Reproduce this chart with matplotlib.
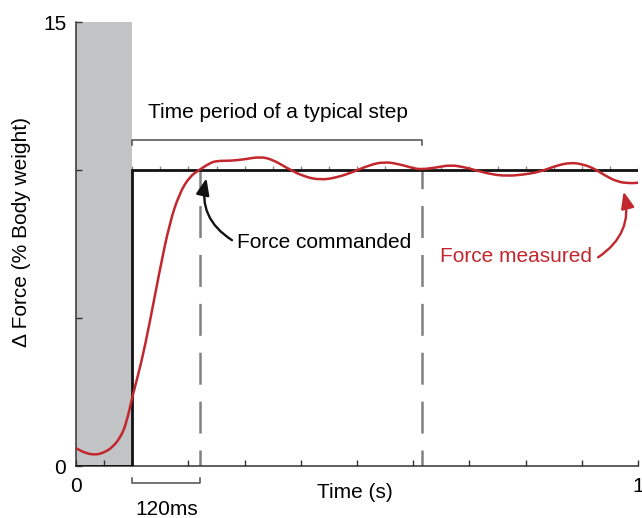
import numpy as np
import matplotlib
matplotlib.use("Agg")
import matplotlib.pyplot as plt
from matplotlib.patches import FancyArrowPatch, PathPatch
from matplotlib.path import Path

plt.rcParams['font.family'] = ['Liberation Sans', 'DejaVu Sans']
plt.rcParams['lines.scale_dashes'] = False

# ---- data ----
step_t = [0.0, 0.1, 0.1, 1.0]
step_force = [0.0, 0.0, 10.0, 10.0]

measured_t = [0.000, 0.015, 0.033, 0.050, 0.066, 0.080, 0.0895, 0.101, 0.116, 0.131,
              0.149, 0.1665, 0.184, 0.202, 0.219, 0.238, 0.250, 0.275, 0.300, 0.328,
              0.350, 0.375, 0.405, 0.435, 0.465, 0.494, 0.520, 0.547, 0.575, 0.600,
              0.614, 0.640, 0.666, 0.690, 0.7135, 0.740, 0.767, 0.795, 0.826, 0.855,
              0.880, 0.900, 0.920, 0.940, 0.963, 0.986, 1.000]
measured_force = [0.60, 0.45, 0.37, 0.45, 0.65, 1.00, 1.44, 2.40, 3.47, 4.82,
                  6.62, 8.20, 9.21, 9.77, 10.00, 10.23, 10.31, 10.31, 10.36, 10.45,
                  10.35, 10.07, 9.78, 9.66, 9.75, 9.94, 10.15, 10.28, 10.20, 10.06,
                  10.02, 10.08, 10.17, 10.10, 9.98, 9.85, 9.80, 9.84, 9.94, 10.15,
                  10.25, 10.20, 10.07, 9.83, 9.60, 9.55, 9.57]

stim_end = 0.1          # end of gray shaded region
dashed_t = [0.22, 0.615]
step_period = (0.1, 0.615)
delay = (0.1, 0.22)

xticks = [0, 0.05, 0.1, 0.2, 0.3, 0.4, 0.5, 0.6, 0.7, 0.8, 0.9, 1.0]
xticklabels = ['0', '', '', '', '', '', '', '', '', '', '', '1']
yticks = [0, 5, 10, 15]
yticklabels = ['0', '', '', '15']

RED = '#c1272d'
FS = 15

fig = plt.figure(figsize=(6.42, 5.18), dpi=100)
ax = fig.add_axes([76/642, 52/518, 562/642, 444/518])
ax.set_xlim(0, 1)
ax.set_ylim(0, 15)

ax.axvspan(0, stim_end, color='#c1c3c5', lw=0, zorder=0)

# small ticks along commanded line
for xt in np.arange(0.1, 1.001, 0.05):
    ax.plot([xt, xt], [10, 10.12], color='#888888', lw=1.0, zorder=2, solid_capstyle='butt')

# dashed verticals
for xd in dashed_t:
    ax.plot([xd, xd], [0, 10], color='#808080', lw=1.8, zorder=2,
            linestyle=(11.5, (23, 12.2)), dash_capstyle='butt')

ax.plot(step_t, step_force, color='#111111', lw=2.0, zorder=3, solid_joinstyle='miter')

# measured force: smooth quadratic curve through the read points
pts = np.column_stack([measured_t, measured_force])
mids = (pts[:-1] + pts[1:]) / 2
verts = [pts[0], mids[0]]
codes = [Path.MOVETO, Path.LINETO]
for i in range(1, len(pts) - 1):
    verts += [pts[i], mids[i]]
    codes += [Path.CURVE3, Path.CURVE3]
verts.append(pts[-1])
codes.append(Path.LINETO)
ax.add_patch(PathPatch(Path(verts, codes), facecolor='none', edgecolor=RED,
                       lw=1.8, zorder=4, capstyle='round', joinstyle='round'))

# bracket: time period of a typical step
bc = '#4d4d4d'
ax.plot([step_period[0], step_period[0], step_period[1], step_period[1]],
        [10.83, 11.0, 11.0, 10.83], color=bc, lw=1.1, clip_on=False)
ax.text(0.359, 11.75, 'Time period of a typical step', fontsize=FS, ha='center', va='baseline')

# bracket: 120 ms (below axis)
ax.plot([delay[0], delay[0], delay[1], delay[1]],
        [-0.41, -0.58, -0.58, -0.41], color=bc, lw=1.1, clip_on=False)
ax.text(0.1607, -1.655, '120ms', fontsize=FS, ha='center', va='baseline', clip_on=False)

# annotations
ax.text(0.286, 7.35, 'Force commanded', fontsize=FS, ha='left', va='baseline')
ax.add_patch(FancyArrowPatch((0.2775, 7.63), (0.2321, 9.72),
                             connectionstyle='arc3,rad=-0.35',
                             arrowstyle='-|>,head_length=10,head_width=4',
                             color='#111111', lw=1.7, zorder=5, shrinkA=0, shrinkB=0))
ax.text(0.648, 6.90, 'Force measured', fontsize=FS, ha='left', va='baseline', color=RED)
ax.add_patch(FancyArrowPatch((0.929, 7.05), (0.9744, 9.27),
                             connectionstyle='arc3,rad=0.35',
                             arrowstyle='-|>,head_length=10,head_width=4',
                             color=RED, lw=1.7, zorder=5, shrinkA=0, shrinkB=0))

# axes styling
for s in ['top', 'right']:
    ax.spines[s].set_visible(False)
for s in ['left', 'bottom']:
    ax.spines[s].set_color('#333333')
    ax.spines[s].set_linewidth(1.1)

ax.set_xticks(xticks)
ax.set_xticklabels(xticklabels)
ax.set_yticks(yticks)
ax.set_yticklabels(yticklabels)
ax.tick_params(axis='both', direction='in', length=4.5, width=1.0, color='#333333',
               labelsize=FS)
ax.tick_params(axis='x', pad=8)
ax.tick_params(axis='y', pad=7)

ax.set_xlabel('Time (s)', fontsize=FS)
ax.xaxis.label.set_va('baseline')
ax.xaxis.set_label_coords(0.497, -0.072)
ax.set_ylabel('Δ Force (% Body weight)', fontsize=FS)
ax.yaxis.label.set_va('center')
ax.yaxis.set_label_coords(-0.0966, 0.527)

fig.savefig('out.png', dpi=100)
